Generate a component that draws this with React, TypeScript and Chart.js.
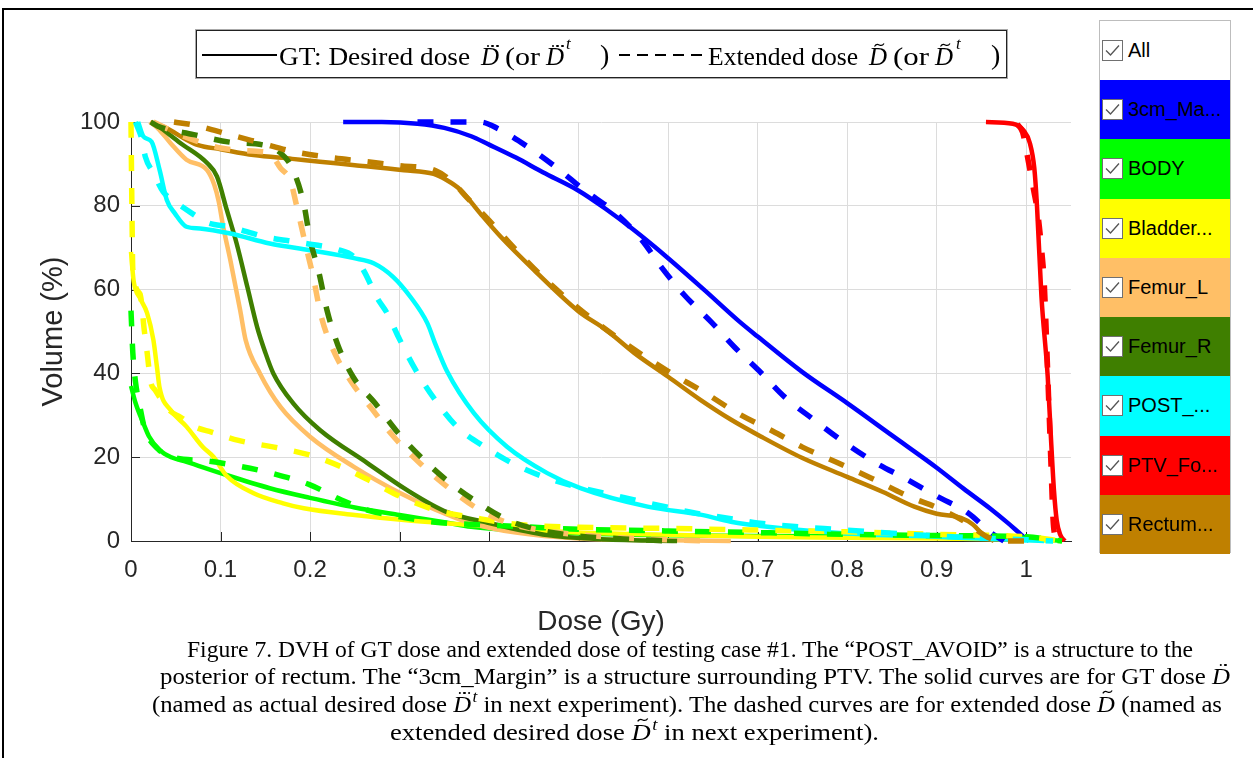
import React, { useEffect, useLayoutEffect, useRef } from 'react';
import { Chart, registerables } from 'chart.js';

Chart.register(...registerables);

type Pt = [number, number];

// ---------- data ----------
const structureNames = ['3cm_Margin', 'BODY', 'Bladder', 'Femur_L', 'Femur_R', 'POST_AVOID', 'PTV_Fo', 'Rectum'];
const legendLabels = ['3cm_Ma...', 'BODY', 'Bladder...', 'Femur_L', 'Femur_R', 'POST_...', 'PTV_Fo...', 'Rectum...'];
const structureColors = ['#0000FF', '#00FF00', '#FFFF00', '#FFBF66', '#3F7F00', '#00FFFF', '#FF0000', '#BF8000'];

const xTicks = [0, 0.1, 0.2, 0.3, 0.4, 0.5, 0.6, 0.7, 0.8, 0.9, 1];
const yTicks = [0, 20, 40, 60, 80, 100];

// GT (solid) DVH curves: [dose Gy, volume %]
const margin3cmSolid: Pt[] = [[0.237, 100], [0.28, 100], [0.32, 99.6], [0.35, 98.6], [0.38, 96.6], [0.4, 94.6], [0.43, 91.5], [0.46, 88], [0.5, 83.6], [0.53, 79.3], [0.56, 74.5], [0.6, 67.5], [0.64, 60], [0.68, 52.3], [0.7, 48.8], [0.75, 40.3], [0.8, 32.9], [0.85, 25.2], [0.9, 17.5], [0.93, 12.5], [0.96, 7.7], [0.98, 4.2], [0.995, 1.4], [1.003, 0]];
const bodySolid: Pt[] = [[0, 37], [0.005, 33], [0.014, 28], [0.02, 25], [0.032, 21.7], [0.045, 20], [0.062, 18.9], [0.1, 16.2], [0.155, 12.6], [0.2, 10.3], [0.25, 8], [0.3, 6.2], [0.35, 4.5], [0.38, 3.4], [0.45, 2.3], [0.5, 1.8], [0.6, 1.4], [0.7, 1.2], [0.8, 1.1], [0.9, 1.0], [1.0, 0.8], [1.04, 0]];
const bladderSolid: Pt[] = [[0, 69], [0.003, 62], [0.01, 58], [0.018, 54.4], [0.025, 48], [0.029, 41.5], [0.032, 36.5], [0.044, 31.3], [0.062, 27.3], [0.08, 22.5], [0.092, 20.1], [0.107, 15.5], [0.137, 11.4], [0.17, 9], [0.193, 7.8], [0.25, 6.2], [0.305, 5], [0.38, 3.8], [0.45, 2.6], [0.5, 2], [0.6, 1.5], [0.7, 1], [0.8, 0.8], [0.9, 0.6], [1.0, 0.3], [1.03, 0]];
const femurLSolid: Pt[] = [[0.021, 100], [0.03, 98.5], [0.044, 95], [0.062, 91], [0.085, 88.5], [0.093, 85], [0.098, 81], [0.103, 75], [0.111, 67], [0.122, 55], [0.128, 48], [0.144, 40], [0.167, 32], [0.2, 24.9], [0.249, 17.7], [0.301, 11.4], [0.34, 7.5], [0.379, 4.3], [0.43, 2], [0.5, 0.6], [0.6, 0.2], [0.67, 0]];
const femurRSolid: Pt[] = [[0.025, 100], [0.04, 97.5], [0.055, 95], [0.085, 90.2], [0.096, 87], [0.107, 79], [0.118, 71], [0.13, 60.6], [0.141, 51], [0.15, 45], [0.159, 40], [0.181, 32.9], [0.211, 26.5], [0.264, 18.6], [0.308, 12.2], [0.353, 6.9], [0.4, 4.3], [0.465, 1.4], [0.52, 0.5], [0.61, 0]];
const postAvoidSolid: Pt[] = [[0.008, 100], [0.014, 96.5], [0.023, 95.3], [0.032, 88.5], [0.04, 81.4], [0.049, 78.2], [0.062, 75], [0.077, 74.6], [0.111, 73.4], [0.155, 71], [0.2, 69.4], [0.249, 67.5], [0.271, 66.3], [0.293, 63], [0.312, 58.3], [0.331, 52], [0.34, 47], [0.353, 40.5], [0.383, 30.5], [0.42, 22.5], [0.465, 16.2], [0.502, 12.6], [0.577, 8.2], [0.636, 6.3], [0.67, 4.6], [0.711, 3.4], [0.8, 1.8], [0.9, 1.0], [0.95, 0.6], [1.0, 0.2], [1.02, 0]];
const ptvSolid: Pt[] = [[0.955, 100], [0.985, 99.6], [0.997, 98], [1.004, 95], [1.009, 89], [1.012, 80], [1.017, 58.3], [1.024, 39.2], [1.028, 23], [1.031, 12], [1.034, 5], [1.038, 1.5], [1.043, 0]];
const rectumSolid: Pt[] = [[0.022, 100], [0.04, 98.5], [0.06, 96], [0.075, 94.5], [0.1, 93.5], [0.137, 92.1], [0.18, 91.2], [0.211, 90.5], [0.25, 89.7], [0.305, 88.5], [0.338, 87.6], [0.352, 86.2], [0.368, 83.8], [0.39, 78.2], [0.413, 72.6], [0.45, 64.7], [0.5, 54.8], [0.53, 50.5], [0.562, 44.9], [0.6, 39.2], [0.636, 33.7], [0.67, 29], [0.704, 24.9], [0.75, 19.8], [0.8, 15.3], [0.84, 11.7], [0.875, 8.2], [0.9, 6.5], [0.927, 5.5], [0.94, 4], [0.95, 1.9], [0.964, 0]];

// Extended (dashed) DVH curves
const margin3cmDashed: Pt[] = [[0.32, 100], [0.39, 100], [0.41, 98.4], [0.443, 94.1], [0.476, 89], [0.506, 83.8], [0.54, 78.5], [0.57, 72], [0.592, 65.5], [0.618, 58.7], [0.648, 52.3], [0.674, 46.3], [0.704, 40.1], [0.73, 34.4], [0.763, 28.9], [0.793, 24.1], [0.83, 18.9], [0.864, 15], [0.901, 10.6], [0.935, 6.7], [0.961, 1.9], [0.975, 0]];
const bodyDashed: Pt[] = [[0, 55], [0.002, 45], [0.005, 38], [0.01, 32], [0.015, 27], [0.03, 22], [0.05, 19.8], [0.08, 19.2], [0.12, 17.9], [0.16, 16], [0.2, 13.4], [0.235, 9.8], [0.265, 7.3], [0.3, 5.8], [0.34, 4.5], [0.4, 3.8], [0.44, 3.4], [0.5, 2.8], [0.6, 2.4], [0.7, 2], [0.8, 1.6], [0.9, 1.3], [1.0, 1], [1.04, 0]];
const bladderDashed: Pt[] = [[0, 100], [0.001, 80], [0.002, 65], [0.01, 59], [0.015, 50], [0.018, 45], [0.022, 38], [0.027, 36], [0.044, 31], [0.055, 29.6], [0.072, 27.2], [0.09, 26], [0.12, 24], [0.16, 22.4], [0.2, 20.5], [0.235, 17.7], [0.265, 14.6], [0.3, 10.7], [0.34, 7.4], [0.385, 5.5], [0.43, 4], [0.5, 3.3], [0.6, 3], [0.7, 2.6], [0.8, 2.2], [0.9, 1.6], [1.0, 1], [1.04, 0]];
const femurLDashed: Pt[] = [[0.025, 100], [0.06, 96.5], [0.1, 93.8], [0.14, 93], [0.155, 92.5], [0.167, 89], [0.178, 86], [0.185, 80], [0.195, 70.7], [0.204, 62.6], [0.212, 54], [0.225, 46], [0.246, 38], [0.27, 31.3], [0.293, 25], [0.323, 18.5], [0.353, 13], [0.385, 8], [0.42, 4.4], [0.46, 2.5], [0.5, 1.5], [0.55, 0.7], [0.6, 0.3], [0.65, 0]];
const femurRDashed: Pt[] = [[0.022, 100], [0.03, 99], [0.07, 97], [0.11, 95.2], [0.152, 94.3], [0.165, 93], [0.18, 89], [0.193, 80.5], [0.2, 72], [0.21, 64], [0.219, 55], [0.231, 46.8], [0.248, 39.2], [0.273, 32.8], [0.298, 25.9], [0.325, 19.8], [0.355, 14.1], [0.39, 8.8], [0.422, 4.9], [0.461, 2.4], [0.5, 1.2], [0.55, 0.5], [0.6, 0]];
const postAvoidDashed: Pt[] = [[0.005, 100], [0.012, 96], [0.016, 91.7], [0.025, 87.8], [0.036, 83.3], [0.049, 81], [0.066, 78.5], [0.085, 76], [0.11, 75], [0.15, 72.6], [0.19, 71.2], [0.232, 69.5], [0.248, 68], [0.26, 64.5], [0.275, 58], [0.286, 54.4], [0.298, 49], [0.317, 41.2], [0.34, 33.6], [0.364, 27.3], [0.397, 22.2], [0.433, 17.8], [0.472, 14.5], [0.55, 10.4], [0.59, 8.5], [0.627, 6.8], [0.665, 5.5], [0.7, 4.3], [0.8, 2.6], [0.9, 1.2], [1.0, 0.3], [1.03, 0]];
const ptvDashed: Pt[] = [[0.99, 99.5], [0.996, 97.5], [1.002, 91], [1.008, 84], [1.013, 78], [1.017, 70], [1.02, 62], [1.022, 52], [1.024, 40], [1.026, 28], [1.028, 16], [1.03, 5], [1.033, 0]];
const rectumDashed: Pt[] = [[0.048, 100], [0.07, 99.3], [0.09, 98.2], [0.105, 97.3], [0.145, 95], [0.18, 93], [0.22, 91.6], [0.26, 90.6], [0.3, 89.6], [0.34, 88.4], [0.36, 85.5], [0.375, 82], [0.4, 76.5], [0.43, 69.5], [0.46, 63], [0.5, 55.5], [0.55, 47.5], [0.6, 40.5], [0.64, 35.5], [0.68, 30.2], [0.717, 26.2], [0.75, 22.4], [0.79, 18.6], [0.827, 15], [0.87, 10.5], [0.9, 8], [0.93, 4.8], [0.96, 0.6], [0.98, 0], [1.01, 0]];

const solidCurves = [margin3cmSolid, bodySolid, bladderSolid, femurLSolid, femurRSolid, postAvoidSolid, ptvSolid, rectumSolid];
const dashedCurves = [margin3cmDashed, bodyDashed, bladderDashed, femurLDashed, femurRDashed, postAvoidDashed, ptvDashed, rectumDashed];

// ---------- chart ----------
const AXIS_COLOR = '#262626';
const SANS = '"Liberation Sans", Arial, sans-serif';
const SERIF = '"Liberation Serif", "Times New Roman", serif';

const inwardTicks = {
  id: 'inwardTicks',
  beforeDatasetsDraw(chart: any) {
    const { ctx, chartArea, scales } = chart;
    ctx.save();
    ctx.strokeStyle = AXIS_COLOR;
    ctx.lineWidth = 1;
    ctx.beginPath();
    for (const v of xTicks) {
      const px = Math.round(scales.x.getPixelForValue(v)) + 0.5;
      ctx.moveTo(px, chartArea.bottom);
      ctx.lineTo(px, chartArea.bottom - 9);
    }
    for (const v of yTicks) {
      const py = Math.round(scales.y.getPixelForValue(v)) + 0.5;
      ctx.moveTo(chartArea.left, py);
      ctx.lineTo(chartArea.left + 9, py);
    }
    ctx.stroke();
    ctx.restore();
  },
};

function buildDatasets() {
  const sets: any[] = [];
  solidCurves.forEach((pts, i) => {
    sets.push({
      label: structureNames[i] + ' GT',
      data: pts.map(([x, y]) => ({ x, y })),
      borderColor: structureColors[i],
      borderWidth: 4.5,
      pointRadius: 0,
      fill: false,
      clip: 8,
    });
  });
  dashedCurves.forEach((pts, i) => {
    sets.push({
      label: structureNames[i] + ' extended',
      data: pts.map(([x, y]) => ({ x, y })),
      borderColor: structureColors[i],
      borderWidth: 5.5,
      borderDash: [16, 17],
      pointRadius: 0,
      fill: false,
      clip: 8,
    });
  });
  // Chart.js draws index 0 on top: later-plotted curves should be on top
  return sets.reverse();
}

function DvhChart() {
  const ref = useRef<HTMLCanvasElement | null>(null);
  useEffect(() => {
    if (!ref.current) return;
    const chart = new Chart(ref.current, {
      type: 'line',
      data: { datasets: buildDatasets() },
      options: {
        animation: false,
        responsive: false,
        devicePixelRatio: 1,
        layout: { padding: { left: 0, top: 122, right: 182, bottom: 117 } },
        plugins: { legend: { display: false }, tooltip: { enabled: false } },
        elements: { line: { cubicInterpolationMode: 'monotone', borderCapStyle: 'butt' }, point: { radius: 0 } },
        scales: {
          x: {
            type: 'linear',
            min: 0,
            max: 1.05,
            afterBuildTicks: (s: any) => {
              s.ticks = xTicks.map((v) => ({ value: v }));
            },
            afterFit: (s: any) => {
              s.height = 100;
            },
            grid: { color: '#dcdcdc', lineWidth: 1, drawTicks: false },
            border: { color: AXIS_COLOR, width: 1 },
            ticks: {
              autoSkip: false,
              maxRotation: 0,
              padding: 15,
              color: AXIS_COLOR,
              font: { family: SANS, size: 24 },
              callback: (v: any) => String(v),
            },
            title: {
              display: true,
              text: 'Dose (Gy)',
              color: AXIS_COLOR,
              font: { family: SANS, size: 28 },
              padding: { top: 0, bottom: 2 },
            },
          },
          y: {
            type: 'linear',
            min: 0,
            max: 100,
            afterBuildTicks: (s: any) => {
              s.ticks = yTicks.map((v) => ({ value: v }));
            },
            afterFit: (s: any) => {
              s.width = 131;
            },
            grid: { color: '#dcdcdc', lineWidth: 1, drawTicks: false },
            border: { color: AXIS_COLOR, width: 1 },
            ticks: {
              autoSkip: false,
              padding: 11,
              color: AXIS_COLOR,
              font: { family: SANS, size: 24 },
              callback: (v: any) => String(v),
            },
            title: {
              display: true,
              text: 'Volume (%)',
              color: AXIS_COLOR,
              font: { family: SANS, size: 29 },
              padding: { top: 37, bottom: 0 },
            },
          },
        },
      },
      plugins: [inwardTicks],
    } as any);
    return () => chart.destroy();
  }, []);
  return <canvas ref={ref} width={1253} height={758} style={{ position: 'absolute', left: 0, top: 0, width: 1253, height: 758 }} />;
}

// ---------- text helpers ----------
function FitText({ width, children, style }: { width: number; children: React.ReactNode; style?: React.CSSProperties }) {
  const ref = useRef<HTMLSpanElement | null>(null);
  useLayoutEffect(() => {
    const el = ref.current;
    if (!el) return;
    el.style.transform = 'none';
    const w = el.getBoundingClientRect().width;
    if (w > 0) el.style.transform = `scaleX(${width / w})`;
  });
  return (
    <span ref={ref} style={{ display: 'inline-block', whiteSpace: 'nowrap', transformOrigin: '0 0', ...style }}>
      {children}
    </span>
  );
}

function Dots({ n, size, left, top }: { n: number; size: number; left: number; top: number }) {
  return (
    <span style={{ position: 'absolute', left, top, display: 'flex', gap: size * 0.9 }}>
      {Array.from({ length: n }).map((_, i) => (
        <span key={i} style={{ width: size, height: size, borderRadius: '50%', background: '#000', display: 'block' }} />
      ))}
    </span>
  );
}

function Tilde({ w, left, top }: { w: number; left: number; top: number }) {
  const h = w * 0.38;
  return (
    <svg width={w} height={h} style={{ position: 'absolute', left, top, overflow: 'visible' }}>
      <path d={`M0.5 ${h - 0.5} Q ${w * 0.22} 0.5 ${w / 2} ${h / 2} T ${w - 0.5} 0.5`} stroke="#000" strokeWidth={1.2} fill="none" />
    </svg>
  );
}

function MathD({ acc, fs, sup, accTop }: { acc: 'dd' | 'ddd' | 'tilde'; fs: number; sup?: boolean; accTop: number }) {
  return (
    <span style={{ position: 'relative', display: 'inline-block', fontStyle: 'italic' }}>
      D
      {acc === 'tilde' ? (
        <Tilde w={fs * 0.42} left={fs * 0.2} top={accTop} />
      ) : (
        <Dots n={acc === 'dd' ? 2 : 3} size={fs * 0.1} left={acc === 'dd' ? fs * 0.3 : fs * 0.22} top={accTop} />
      )}
      {sup && <span style={{ position: 'relative', top: -fs * 0.42, fontSize: fs * 0.7, marginLeft: fs * 0.06 }}>t</span>}
    </span>
  );
}

// ---------- page pieces ----------
function TopLegend() {
  const fs = 25;
  const top = 42.6;
  const piece = (left: number, content: React.ReactNode, extra: React.CSSProperties = {}) => (
    <span style={{ position: 'absolute', left, top, lineHeight: '28px', fontSize: fs, fontFamily: SERIF, whiteSpace: 'nowrap', color: '#000', ...extra }}>
      {content}
    </span>
  );
  return (
    <>
      <div style={{ position: 'absolute', left: 196, top: 30, width: 809, height: 46, border: '1px solid #222', boxShadow: '0 0 0 1px #aaa', background: '#fff' }} />
      <div style={{ position: 'absolute', left: 202, top: 54, width: 75, height: 1.5, background: '#000' }} />
      {piece(279, <FitText width={191}>GT: Desired dose</FitText>)}
      {piece(481, <MathD acc="ddd" fs={fs} accTop={2} />)}
      {piece(505, <FitText width={35}>(or</FitText>)}
      {piece(546, <MathD acc="ddd" fs={fs} accTop={2} />)}
      {piece(566, 't', { fontStyle: 'italic', fontSize: 17, top: 30 })}
      {piece(600, ')', { fontSize: 28, top: 41 })}
      {[0, 1, 2, 3, 4].map((i) => (
        <div key={i} style={{ position: 'absolute', left: 619 + i * 18, top: 54, width: 11, height: 1.5, background: '#000' }} />
      ))}
      {piece(708, <FitText width={150}>Extended dose</FitText>)}
      {piece(869, <MathD acc="tilde" fs={fs} accTop={0} />)}
      {piece(893, <FitText width={36}>(or</FitText>)}
      {piece(935, <MathD acc="tilde" fs={fs} accTop={0} />)}
      {piece(956, 't', { fontStyle: 'italic', fontSize: 17, top: 30 })}
      {piece(991, ')', { fontSize: 28, top: 41 })}
    </>
  );
}

function CheckBox() {
  return (
    <svg width={21} height={21} style={{ display: 'block' }}>
      <rect x={0.5} y={0.5} width={20} height={20} fill="#fff" stroke="#707070" />
      <polyline points="4,10.5 8.5,15 17,5.5" fill="none" stroke="#555" strokeWidth={1.3} />
    </svg>
  );
}

function SidePanel() {
  const rows = [{ label: 'All', color: '#ffffff', top: 20, h: 59 }].concat(
    legendLabels.map((l, i) => ({ label: l, color: structureColors[i], top: 79 + i * 59.25, h: 59.25 }))
  );
  return (
    <div style={{ position: 'absolute', left: 1099, top: 20, width: 132, height: 533, border: '1px solid #bdbdbd', boxSizing: 'border-box', background: '#fff' }}>
      {rows.map((r, i) => (
        <div key={i} style={{ position: 'absolute', left: 0, right: 0, top: r.top - 20, height: r.h, background: r.color, display: 'flex', alignItems: 'center' }}>
          <div style={{ marginLeft: 2 }}>
            <CheckBox />
          </div>
          <span style={{ marginLeft: 5, fontFamily: SANS, fontSize: 20, color: '#000', whiteSpace: 'nowrap' }}>{r.label}</span>
        </div>
      ))}
    </div>
  );
}

function Caption() {
  const fs = 24;
  const line = (left: number, right: number, center: number, content: React.ReactNode) => (
    <div
      style={{
        position: 'absolute',
        left,
        top: center - 14,
        height: 28,
        lineHeight: '28px',
        fontSize: fs,
        fontFamily: SERIF,
        color: '#000',
        whiteSpace: 'nowrap',
      }}
    >
      <FitText width={right - left}>{content}</FitText>
    </div>
  );
  return (
    <>
      {line(187, 1193, 649, <>Figure 7. DVH of GT dose and extended dose of testing case #1. The “POST_AVOID” is a structure to the</>)}
      {line(160, 1230, 676, <>posterior of rectum. The “3cm_Margin” is a structure surrounding PTV. The solid curves are for GT dose <MathD acc="dd" fs={fs} accTop={2} /></>)}
      {line(152, 1222, 704, <>(named as actual desired dose <MathD acc="ddd" fs={fs} sup accTop={2} /> in next experiment). The dashed curves are for extended dose <MathD acc="tilde" fs={fs} accTop={0} /> (named as</>)}
      {line(390, 879, 732, <>extended desired dose <MathD acc="tilde" fs={fs} sup accTop={0} /> in next experiment).</>)}
    </>
  );
}

export default function App() {
  return (
    <div style={{ position: 'absolute', left: 0, top: 0, width: 1253, height: 758, background: '#fff', overflow: 'hidden' }}>
      <div style={{ position: 'absolute', left: 2, top: 8, width: 1251, height: 2, background: '#000' }} />
      <div style={{ position: 'absolute', left: 2, top: 8, width: 2, height: 750, background: '#000' }} />
      <DvhChart />
      <TopLegend />
      <SidePanel />
      <Caption />
    </div>
  );
}
